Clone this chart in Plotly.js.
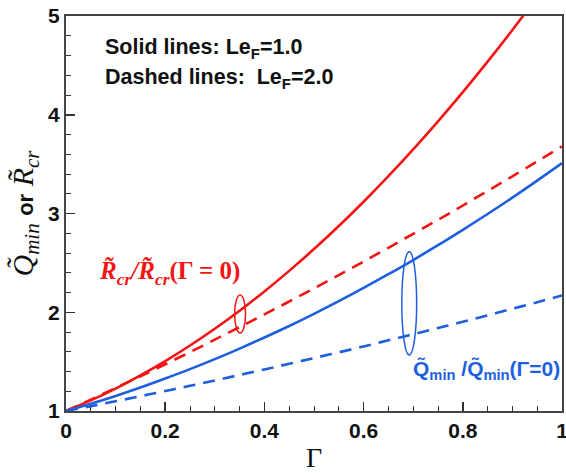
<!DOCTYPE html>
<html>
<head>
<meta charset="utf-8">
<script src="https://cdn.plot.ly/plotly-3.0.1.min.js"></script>
<style>
  html, body { margin: 0; padding: 0; background: #ffffff; }
  #chart { width: 566px; height: 473px; }
</style>
</head>
<body>
<div id="chart"></div>
<script>
// Gamma sampling points
const gamma = [0, 0.05, 0.1, 0.15, 0.2, 0.25, 0.3, 0.35, 0.4, 0.45, 0.5,
               0.55, 0.6, 0.65, 0.7, 0.75, 0.8, 0.85, 0.9, 0.95, 1.0];

// Normalised critical radius R_cr / R_cr(Γ=0)
const rcrLe1 = [1, 1.107, 1.227, 1.360, 1.505, 1.663, 1.833, 2.016, 2.211, 2.419, 2.640,
                2.873, 3.119, 3.378, 3.649, 3.933, 4.229, 4.538, 4.859, 5.193, 5.54];
const rcrLe2 = [1, 1.115, 1.233, 1.352, 1.473, 1.596, 1.722, 1.849, 1.978, 2.109, 2.242,
                2.377, 2.514, 2.653, 2.794, 2.936, 3.081, 3.228, 3.377, 3.527, 3.680];

// Normalised minimum ignition power Q_min / Q_min(Γ=0)
const qminLe1 = [1, 1.074, 1.153, 1.238, 1.329, 1.424, 1.525, 1.632, 1.744, 1.861, 1.984,
                 2.112, 2.246, 2.385, 2.529, 2.679, 2.835, 2.995, 3.161, 3.333, 3.510];
const qminLe2 = [1, 1.049, 1.099, 1.150, 1.202, 1.255, 1.309, 1.365, 1.421, 1.478, 1.536,
                 1.594, 1.654, 1.716, 1.777, 1.840, 1.904, 1.969, 2.035, 2.102, 2.170];

const xTicks = [0, 0.2, 0.4, 0.6, 0.8, 1];
const xTickText = ['0', '0.2', '0.4', '0.6', '0.8', '1'];
const yTicks = [1, 2, 3, 4, 5];
const yTickText = ['1', '2', '3', '4', '5'];

const RED = '#f41414';
const BLUE = '#1e5fe0';
const DASH = '12px,8px';

const traces = [
  {x: gamma, y: rcrLe1, mode: 'lines', line: {color: RED, width: 2.6, shape: 'spline'}},
  {x: gamma, y: rcrLe2, mode: 'lines', line: {color: RED, width: 2.6, dash: DASH, shape: 'spline'}},
  {x: gamma, y: qminLe1, mode: 'lines', line: {color: BLUE, width: 2.6, shape: 'spline'}},
  {x: gamma, y: qminLe2, mode: 'lines', line: {color: BLUE, width: 2.6, dash: DASH, shape: 'spline'}}
];

const sans = 'Liberation Sans, Arial, sans-serif';
const serif = 'Liberation Serif, Times New Roman, serif';

const layout = {
  width: 566,
  height: 473,
  margin: {l: 66, r: 4, t: 16, b: 62},
  paper_bgcolor: '#ffffff',
  plot_bgcolor: '#ffffff',
  showlegend: false,
  xaxis: {
    range: [0, 1],
    tickvals: xTicks,
    ticktext: xTickText,
    ticklabeloverflow: 'allow',
    ticks: 'inside',
    ticklen: 9,
    tickwidth: 1.5,
    tickcolor: '#333',
    minor: {dtick: 0.05, ticks: 'inside', ticklen: 5, tickwidth: 1, tickcolor: '#333'},
    showline: true,
    linecolor: '#444',
    linewidth: 2,
    mirror: true,
    showgrid: false,
    zeroline: false,
    tickfont: {family: sans, size: 21, color: '#111', weight: 'bold'},
    title: {text: 'Γ', font: {family: serif, size: 28, color: '#111'}, standoff: 6}
  },
  yaxis: {
    range: [1, 5],
    tickvals: yTicks,
    ticktext: yTickText,
    ticks: 'inside',
    ticklen: 9,
    tickwidth: 1.5,
    tickcolor: '#333',
    minor: {dtick: 0.2, ticks: 'inside', ticklen: 5, tickwidth: 1, tickcolor: '#333'},
    showline: true,
    linecolor: '#444',
    linewidth: 2,
    mirror: true,
    showgrid: false,
    zeroline: false,
    tickfont: {family: sans, size: 21, color: '#111', weight: 'bold'},
    title: {
      text: '<i>Q̃</i><sub><i>min</i></sub> <span style="font-family:Liberation Sans;font-weight:bold;font-size:22px">or</span> <i>R̃</i><sub><i>cr</i></sub>',
      font: {family: serif, size: 30, color: '#111'},
      standoff: 6
    }
  },
  shapes: [
    {type: 'circle', xref: 'x', yref: 'y', x0: 0.340, x1: 0.362, y0: 1.79, y1: 2.175,
     line: {color: RED, width: 1.5}},
    {type: 'circle', xref: 'x', yref: 'y', x0: 0.677, x1: 0.707, y0: 1.567, y1: 2.613,
     line: {color: BLUE, width: 1.5}}
  ],
  annotations: [
    {xref: 'paper', yref: 'paper', x: 0.074, y: 0.918, xanchor: 'left', yanchor: 'middle',
     showarrow: false, text: 'Solid lines: Le<sub>F</sub>=1.0',
     font: {family: sans, size: 21.5, color: '#111', weight: 'bold'}},
    {xref: 'paper', yref: 'paper', x: 0.074, y: 0.842, xanchor: 'left', yanchor: 'middle',
     showarrow: false, text: 'Dashed lines:  Le<sub>F</sub>=2.0',
     font: {family: sans, size: 21.5, color: '#111', weight: 'bold'}},
    {xref: 'paper', yref: 'paper', x: 0.062, y: 0.350, xanchor: 'left', yanchor: 'middle',
     showarrow: false, text: '<i>R̃<sub>cr</sub>/R̃<sub>cr</sub></i>(Γ = 0)',
     font: {family: serif, size: 25, color: RED, weight: 'bold'}},
    {xref: 'paper', yref: 'paper', x: 1.0, y: 0.103, xanchor: 'right', yanchor: 'middle',
     showarrow: false, text: 'Q̃<sub>min</sub> /Q̃<sub>min</sub>(Γ=0)',
     font: {family: sans, size: 21, color: BLUE, weight: 'bold'}}
  ]
};

Plotly.newPlot('chart', traces, layout, {displayModeBar: false, staticPlot: true});
</script>
</body>
</html>
